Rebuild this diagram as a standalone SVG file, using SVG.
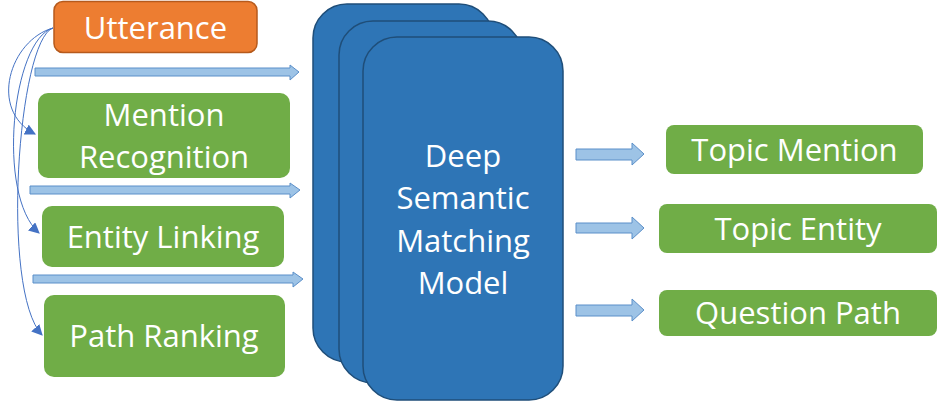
<svg xmlns="http://www.w3.org/2000/svg" width="937" height="410" viewBox="0 0 937 410">
<style>
.lbl{font-family:"Open Sans","Liberation Sans",sans-serif;fill:#ffffff;text-anchor:middle;font-size:31px}
.green{fill:#70AD47}
.model{fill:#2E75B6;stroke:#1F4E79;stroke-width:1.5}
.blk{fill:#9DC3E6;stroke:#5B8FC9;stroke-width:1}
.cur{fill:none;stroke:#4472C4;stroke-width:1}
</style>
<defs>
<marker id="tri" viewBox="0 0 10 10" refX="9" refY="5" markerWidth="11" markerHeight="11" markerUnits="userSpaceOnUse" orient="auto">
<path d="M0,0 L10,5 L0,10 z" fill="#4472C4"/>
</marker>
</defs>
<rect width="937" height="410" fill="#ffffff"/>
<g id="utterance">
<rect x="54" y="1.5" width="203" height="51" rx="9" fill="#ED7D31" stroke="#B65A1C" stroke-width="1.5"/>
<text class="lbl" x="155.5" y="39">Utterance</text>
</g>
<g id="mention-recognition">
<rect class="green" x="38" y="93" width="252" height="85" rx="10"/>
<text class="lbl" x="164" y="126">Mention</text>
<text class="lbl" x="164" y="168">Recognition</text>
</g>
<g id="entity-linking">
<rect class="green" x="42" y="206" width="242" height="61" rx="10"/>
<text class="lbl" x="163" y="248">Entity Linking</text>
</g>
<g id="path-ranking">
<rect class="green" x="44" y="295" width="241" height="82" rx="10"/>
<text class="lbl" x="164" y="347">Path Ranking</text>
</g>
<g id="deep-model">
<rect class="model" x="313" y="4" width="180" height="358" rx="34"/>
<rect class="model" x="339" y="21" width="183" height="362" rx="34"/>
<rect class="model" x="363" y="37" width="200" height="363" rx="34"/>
<text class="lbl" x="463" y="167">Deep</text>
<text class="lbl" x="463" y="209">Semantic</text>
<text class="lbl" x="463" y="252">Matching</text>
<text class="lbl" x="463" y="294">Model</text>
</g>
<g id="topic-mention">
<rect class="green" x="666" y="125" width="257" height="49" rx="8"/>
<text class="lbl" x="794.5" y="161">Topic Mention</text>
</g>
<g id="topic-entity">
<rect class="green" x="659" y="204" width="278" height="49" rx="8"/>
<text class="lbl" x="798" y="240">Topic Entity</text>
</g>
<g id="question-path">
<rect class="green" x="659" y="290" width="278" height="46" rx="8"/>
<text class="lbl" x="798" y="324">Question Path</text>
</g>
<g id="connectors">
<path class="blk" d="M35,68 H290 V65 L299,72 L290,80 V76 H35 Z"/>
<path class="blk" d="M30,186 H290 V183 L300,190 L290,198 V194 H30 Z"/>
<path class="blk" d="M33,275 H293 V272 L303,279 L293,287 V283 H33 Z"/>
<path class="blk" d="M576,149 H632 V143 L644,154 L632,165 V160 H576 Z"/>
<path class="blk" d="M576,223 H632 V217 L644,228 L632,239 V233 H576 Z"/>
<path class="blk" d="M576,305 H632 V299 L644,310 L632,321 V316 H576 Z"/>
<path class="cur" d="M53,28 C10,40 -12,110 35,134" marker-end="url(#tri)"/>
<path class="cur" d="M53,28 C12,40 -4,195 39,233" marker-end="url(#tri)"/>
<path class="cur" d="M53,28 C18,40 0,290 42,335" marker-end="url(#tri)"/>
</g>
</svg>
